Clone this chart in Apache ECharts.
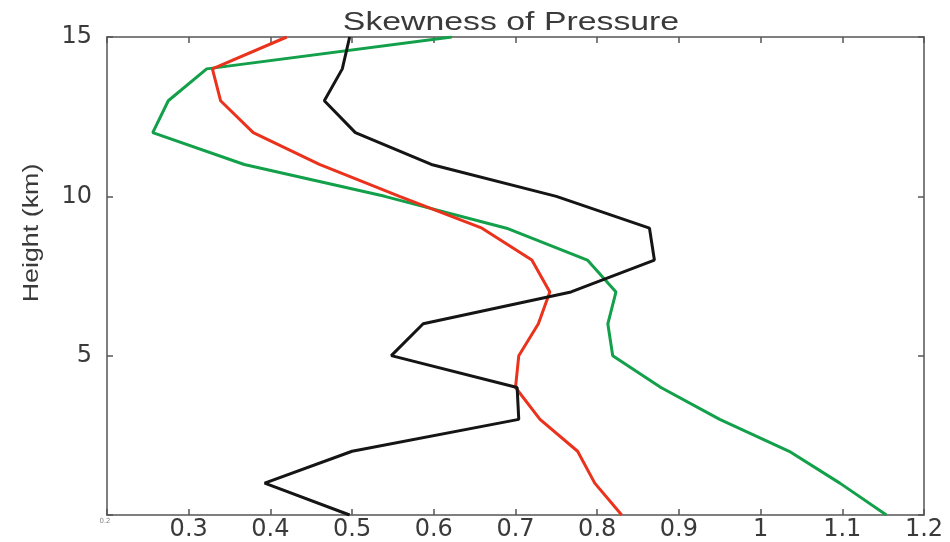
<!DOCTYPE html>
<html>
<head>
<meta charset="utf-8">
<script src="https://cdn.jsdelivr.net/npm/echarts@6/dist/echarts.min.js"></script>
<style>
  html, body { margin: 0; padding: 0; background: #fff; }
  #chart { width: 950px; height: 542px; }
</style>
</head>
<body>
<div id="chart"></div>
<script>
// Height levels (km) and skewness profiles
const heights = [0, 1, 2, 3, 4, 5, 6, 7, 8, 9, 10, 11, 12, 13, 14, 15];
const blackProfile = [0.497, 0.393, 0.500, 0.704, 0.702, 0.548, 0.587, 0.768, 0.870, 0.864, 0.750, 0.597, 0.504, 0.466, 0.488, 0.497];
const redProfile   = [0.830, 0.797, 0.776, 0.730, 0.700, 0.704, 0.728, 0.742, 0.720, 0.659, 0.558, 0.460, 0.379, 0.339, 0.329, 0.420];
const greenProfile = [1.154, 1.097, 1.035, 0.950, 0.878, 0.819, 0.813, 0.823, 0.788, 0.689, 0.540, 0.368, 0.256, 0.275, 0.322, 0.622];
const xTicks = [0.2, 0.3, 0.4, 0.5, 0.6, 0.7, 0.8, 0.9, 1, 1.1, 1.2];
const yTicks = [0, 5, 10, 15];

const pairs = vals => vals.map((v, i) => [v, heights[i]]);
const fmt = v => String(Math.round(v * 10) / 10);

const axisColor = '#555';
const textColor = '#3a3a3a';
const chart = echarts.init(document.getElementById('chart'), null, { renderer: 'canvas' });

const xCommon = {
  type: 'value', min: xTicks[0], max: xTicks[xTicks.length - 1], interval: 0.1,
  axisLine: { show: true, onZero: false, lineStyle: { color: axisColor, width: 1.5 } },
  axisTick: { show: true, inside: true, length: 6, lineStyle: { color: axisColor, width: 1.5 } },
  splitLine: { show: false }
};
const yCommon = {
  type: 'value', min: yTicks[0], max: yTicks[yTicks.length - 1], interval: 5,
  axisLine: { show: true, onZero: false, lineStyle: { color: axisColor, width: 1.5 } },
  axisTick: { show: true, inside: true, length: 6, lineStyle: { color: axisColor, width: 1.5 } },
  splitLine: { show: false }
};

chart.setOption({
  animation: false,
  backgroundColor: '#fff',
  grid: { left: 107, right: 26, top: 37, bottom: 26, containLabel: false },
  xAxis: [
    Object.assign({}, xCommon, {
      position: 'bottom',
      axisLabel: {
        show: true, margin: 3, color: textColor,
        fontFamily: 'DejaVu Sans', fontSize: 24,
        formatter: v => Math.abs(v - 0.2) < 1e-9 ? '{s|' + fmt(v) + '}' : fmt(v),
        rich: { s: { fontSize: 7, color: '#888', fontFamily: 'DejaVu Sans', padding: [0, 4, 0, 0] } }
      }
    }),
    Object.assign({}, xCommon, { position: 'top', axisLabel: { show: false } })
  ],
  yAxis: [
    Object.assign({}, yCommon, {
      position: 'left',
      axisLabel: {
        show: true, margin: 15, color: textColor,
        fontFamily: 'DejaVu Sans', fontSize: 24,
        formatter: v => v === 0 ? '' : String(v)
      }
    }),
    Object.assign({}, yCommon, { position: 'right', axisLabel: { show: false } })
  ],
  graphic: [
    {
      type: 'text', x: 511, y: 23, scaleX: 1.3,
      style: {
        text: 'Skewness of Pressure', fill: textColor,
        font: '26px "Liberation Sans"', textAlign: 'center', textVerticalAlign: 'middle'
      }
    },
    {
      type: 'text', x: 32, y: 233, rotation: Math.PI / 2, scaleX: 1.22,
      style: {
        text: 'Height (km)', fill: textColor,
        font: '22px "Liberation Sans"', textAlign: 'center', textVerticalAlign: 'middle'
      }
    }
  ],
  series: [
    { name: 'green', type: 'line', data: pairs(greenProfile), showSymbol: false, xAxisIndex: 0, yAxisIndex: 0,
      lineStyle: { color: '#13a04a', width: 3 }, itemStyle: { color: '#13a04a' } },
    { name: 'red', type: 'line', data: pairs(redProfile), showSymbol: false, xAxisIndex: 0, yAxisIndex: 0,
      lineStyle: { color: '#ea321c', width: 3 }, itemStyle: { color: '#ea321c' } },
    { name: 'black', type: 'line', data: pairs(blackProfile), showSymbol: false, xAxisIndex: 0, yAxisIndex: 0,
      lineStyle: { color: '#151515', width: 3 }, itemStyle: { color: '#151515' } }
  ]
});
</script>
</body>
</html>
